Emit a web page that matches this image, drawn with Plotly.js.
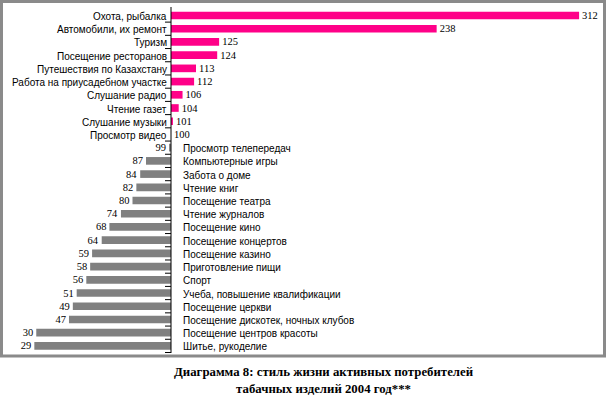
<!DOCTYPE html>
<html>
<head>
<meta charset="utf-8">
<script src="https://cdn.plot.ly/plotly-3.0.1.min.js"></script>
<style>html,body{margin:0;padding:0;background:#fff;}#chart{width:607px;height:406px;}</style>
</head>
<body>
<div id="chart"></div>
<script>
const categories = [
  "Охота, рыбалка","Автомобили, их ремонт","Туризм","Посещение ресторанов",
  "Путешествия по Казахстану","Работа на приусадебном участке","Слушание радио",
  "Чтение газет","Слушание музыки","Просмотр видео","Просмотр телепередач",
  "Компьютерные игры","Забота о доме","Чтение книг","Посещение театра",
  "Чтение журналов","Посещение кино","Посещение концертов","Посещение казино",
  "Приготовление пищи","Спорт","Учеба, повышение квалификации","Посещение церкви",
  "Посещение дискотек, ночных клубов","Посещение центров красоты","Шитье, рукоделие"
];
const values = [312,238,125,124,113,112,106,104,101,100,99,87,84,82,80,74,68,64,59,58,56,51,49,47,30,29];
const baseline = 100;
const titleLines = ["Диаграмма 8: стиль жизни активных потребителей","табачных изделий 2004 год***"];

const above = values.map(v => v >= baseline);
const colors = values.map(v => v >= baseline ? "#ff0088" : "#808080");

const trace = {
  type: "bar",
  orientation: "h",
  y: categories,
  x: values.map(v => v - baseline),
  base: baseline,
  marker: {color: colors, line: {width: 0}},
  text: values.map(String),
  textposition: "outside",
  constraintext: "none",
  textfont: {family: "Liberation Serif, Times New Roman, serif", size: 10.5, color: "#000"},
  cliponaxis: false,
  hoverinfo: "none",
  width: 0.58
};

const L = 8, R = 8, T = 7, B = 53;
const W = 607, H = 406;
const pw = W - L - R, ph = H - T - B;
const px2x = p => (p - L) / pw;
const py2y = p => (H - B - p) / ph;

const annotations = categories.map((c, i) => ({
  xref: "x", yref: "y", x: baseline, y: c,
  text: c, showarrow: false,
  xanchor: above[i] ? "right" : "left",
  xshift: above[i] ? -2 : 10,
  yshift: -1,
  font: {family: "Liberation Sans, Arial, sans-serif", size: 10, color: "#000"}
}));
annotations.push({
  xref: "paper", yref: "paper", x: px2x(324), y: py2y(363),
  xanchor: "center", yanchor: "top", showarrow: false, align: "center",
  text: "<b>" + titleLines.join("<br>") + "</b>",
  font: {family: "Liberation Serif, Times New Roman, serif", size: 12.8, color: "#000"}
});

const layout = {
  width: W, height: H,
  margin: {l: L, r: R, t: T, b: B, pad: 0},
  paper_bgcolor: "#fff", plot_bgcolor: "#fff",
  showlegend: false,
  bargap: 0.42,
  xaxis: {
    range: [100 - (171 - L) / 1.925, 100 + (W - R - 171) / 1.925],
    visible: false, fixedrange: true
  },
  yaxis: {
    type: "category", autorange: "reversed",
    showticklabels: false, showgrid: false, zeroline: false,
    ticks: "", showline: false
  },
  shapes: [
    {type: "line", xref: "x", yref: "paper", x0: baseline, x1: baseline, y0: 0, y1: 1,
     line: {color: "#000", width: 1}},
    ...categories.map((c, i) => ({
      type: "line", xref: "x", yref: "y",
      x0: baseline - 6 / 1.925, x1: baseline, y0: i + 0.5, y1: i + 0.5,
      line: {color: "#000", width: 1}
    })),
    {type: "rect", xref: "paper", yref: "paper",
     x0: px2x(1.5), x1: px2x(604.5), y0: py2y(356), y1: py2y(1.5),
     line: {color: "#8a8a8a", width: 3}, fillcolor: "rgba(0,0,0,0)"}
  ],
  annotations: annotations
};

Plotly.newPlot("chart", [trace], layout, {staticPlot: true, displayModeBar: false});
</script>
</body>
</html>
